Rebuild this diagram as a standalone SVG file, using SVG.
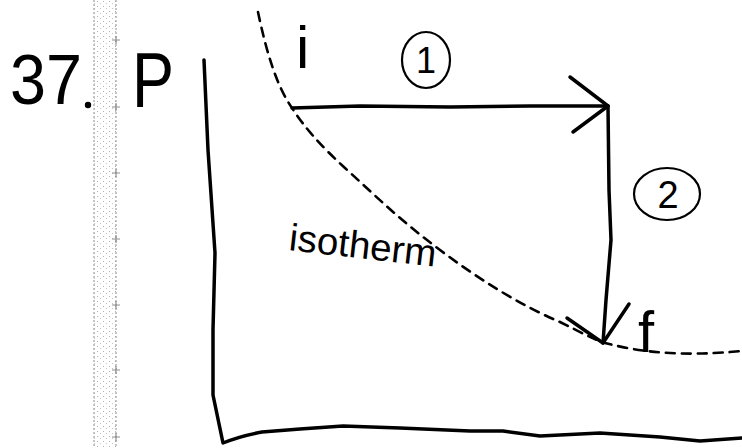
<svg xmlns="http://www.w3.org/2000/svg" width="742" height="448" viewBox="0 0 742 448">
<defs>
<pattern id="stip" width="6" height="5" patternUnits="userSpaceOnUse">
<rect x="1" y="1" width="1" height="1" fill="#b0b0b0"/>
<rect x="4" y="3" width="1" height="1" fill="#c4c4c4"/>
</pattern>
</defs>
<style>
.ink{fill:none;stroke:#000;stroke-width:3.5;stroke-linecap:round;stroke-linejoin:round}
.thin{fill:none;stroke:#000;stroke-width:2.2;stroke-linecap:round;stroke-linejoin:round}
.dash{fill:none;stroke:#000;stroke-width:2.6;stroke-dasharray:9 7;stroke-linecap:round}
.hand{font-family:"Liberation Sans","DejaVu Sans",sans-serif;fill:#000}
.strip{stroke:#a0a0a0;stroke-width:1.2;stroke-dasharray:2 2}
</style>
<rect width="742" height="448" fill="#fff"/>
<g id="binding-strip">
<rect x="92" y="0" width="26" height="448" fill="url(#stip)"/>
<line class="strip" x1="94" y1="0" x2="94" y2="448"/>
<line class="strip" x1="116" y1="0" x2="116" y2="448"/>
<g stroke="#909090" stroke-width="1.2">
<path d="M112,40h8M116,36v8M112,107h8M116,103v8M112,173h8M116,169v8M112,239h8M116,235v8M112,305h8M116,301v8M112,370h8M116,366v8M112,437h8M116,433v8"/>
</g>
</g>
<g id="problem-number">
<text class="hand" x="10" y="104" font-size="70" textLength="72" lengthAdjust="spacingAndGlyphs">37</text>
<circle cx="88" cy="105" r="3.2" fill="#000"/>
</g>
<g id="axes">
<text class="hand" x="132" y="107" font-size="78" textLength="42" lengthAdjust="spacingAndGlyphs">P</text>
<path class="ink" d="M204,60 L208,150 L215,253 L213,330 L213,395 L223,443 Q240,436 262,432 L300,429 L343,426 L400,428 L470,431 L503,431 L540,436 L600,433 L660,437 L700,441 L742,438"/>
</g>
<g id="connectors">
<path id="isotherm-curve" class="dash" d="M258,12 C266,50 276,85 292,108 C305,128 320,145 345,168 C380,200 400,220 440,250 C480,280 520,305 560,322 C580,332 595,340 605,343 C640,352 680,357 742,351"/>
<g id="process-1">
<path class="ink" d="M292,108 L360,106 L450,107 L530,106 L608,106"/>
<path class="ink" d="M570,77 L608,106 L573,132"/>
</g>
<g id="process-2">
<path class="ink" d="M608,106 L609,190 L611,240 L606,300 L603,343"/>
<path class="ink" d="M567,318 L603,343 L629,304"/>
</g>
</g>
<g id="state-i">
<text class="hand" x="296" y="68" font-size="60">i</text>
</g>
<g id="state-f">
<text class="hand" x="638" y="352" font-size="58">f</text>
</g>
<g id="label-1">
<ellipse class="thin" cx="426" cy="60" rx="24" ry="28"/>
<text class="hand" x="426" y="73" font-size="36" text-anchor="middle">1</text>
</g>
<g id="label-2">
<ellipse class="thin" cx="667" cy="194" rx="33" ry="26"/>
<text class="hand" x="668" y="208" font-size="38" text-anchor="middle">2</text>
</g>
<g id="label-isotherm">
<text class="hand" x="288" y="250" font-size="38" textLength="148" lengthAdjust="spacingAndGlyphs" transform="rotate(6.5 288 250)">isotherm</text>
</g>
</svg>
